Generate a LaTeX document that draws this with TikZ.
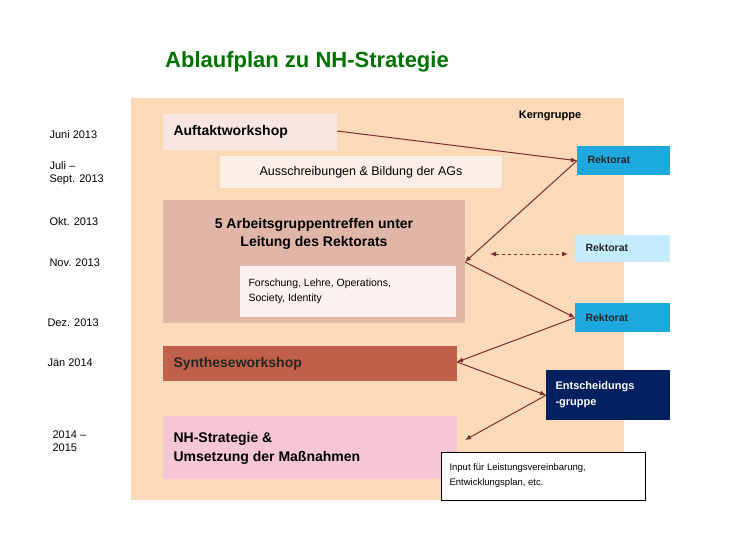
\documentclass[tikz,border=0pt]{standalone}
\usepackage{fontspec}
\setmainfont{Liberation Sans}
\usetikzlibrary{arrows.meta}
\definecolor{peach}{HTML}{FADAB8}
\definecolor{arr}{HTML}{7A2E2E}
\definecolor{cyanb}{HTML}{1DA9DE}
\definecolor{lightb}{HTML}{C4ECFA}
\definecolor{navy}{HTML}{002060}
\definecolor{cAuf}{HTML}{F8E6E2}
\definecolor{cAus}{HTML}{FCEFE8}
\definecolor{cAG}{HTML}{E0B6A8}
\definecolor{cFL}{HTML}{FBF1EE}
\definecolor{cSyn}{HTML}{C0604A}
\definecolor{cNH}{HTML}{F5C6D3}
\tikzset{
 box/.style={draw=none,anchor=north west,inner sep=0pt},
 lbl/.style={anchor=west,font=\fontsize{11}{13}\selectfont,align=left},
 con/.style={draw=arr,line width=1pt,-{Latex[length=6pt,width=5pt]}},
 rk/.style={font=\bfseries\fontsize{10.5}{12}\selectfont,text=black!85}
}
\begin{document}
\begin{tikzpicture}[x=1pt,y=-1pt]
\useasboundingbox (0,0) rectangle (735,538);
\fill[peach] (131,98) rectangle (624,500);
\node[text=green!45!black,font=\bfseries\fontsize{22}{26}\selectfont] (title) at (307,62) {Ablaufplan zu NH-Strategie};
\node[font=\bfseries\fontsize{11}{13}\selectfont] (kern) at (550,116) {Kerngruppe};
\node[lbl] (d1) at (46,135) {Juni 2013};
\node[lbl] (d2) at (46,173) {Juli –\\Sept. 2013};
\node[lbl] (d3) at (46,222) {Okt. 2013};
\node[lbl] (d4) at (46,263) {Nov. 2013};
\node[lbl] (d5) at (44,323) {Dez. 2013};
\node[lbl] (d6) at (44,363) {Jän 2014};
\node[lbl] (d7) at (49,441) {2014 –\\2015};
% boxes
\fill[cAuf] (163,114) rectangle (337,150);
\node[font=\bfseries\fontsize{14}{16}\selectfont,anchor=west] (auf) at (170,132) {Auftaktworkshop};
\coordinate (aufR) at (337,131);
\fill[cAus] (220,156) rectangle (502,188);
\node[font=\fontsize{12.5}{14}\selectfont] (aus) at (361,172) {Ausschreibungen \& Bildung der AGs};
\fill[cAG] (163,200) rectangle (465,323);
\node[font=\bfseries\fontsize{14}{18}\selectfont,align=center] (ag) at (314,234) {5 Arbeitsgruppentreffen unter\\Leitung des Rektorats};
\coordinate (agR) at (465,262);
\fill[cFL] (240,266) rectangle (456,317);
\node[font=\fontsize{10.5}{15}\selectfont,align=left,anchor=west] (fl) at (245,291) {Forschung, Lehre, Operations,\\Society, Identity};
\fill[cSyn] (163,346) rectangle (457,381);
\node[font=\bfseries\fontsize{14}{16}\selectfont,anchor=west,text=black!85] (syn) at (170,364) {Syntheseworkshop};
\coordinate (synR) at (457,362);
\fill[cNH] (163,416) rectangle (457,479);
\node[font=\bfseries\fontsize{14}{19}\selectfont,align=left,anchor=west] (nh) at (170,448) {NH-Strategie \&\\Umsetzung der Maßnahmen};
\coordinate (nhR) at (465,440);
% right
\node[box,fill=cyanb,minimum width=93pt,minimum height=29pt] (r1) at (577,146) {};
\node[rk,anchor=west] at (584,160) {Rektorat};
\node[box,fill=lightb,minimum width=95pt,minimum height=27pt] (r2) at (575,235) {};
\node[rk,anchor=west] at (582,248) {Rektorat};
\node[box,fill=cyanb,minimum width=95pt,minimum height=29pt] (r3) at (575,303) {};
\node[rk,anchor=west] at (582,318) {Rektorat};
\node[box,fill=navy,minimum width=124pt,minimum height=50pt] (eg) at (546,370) {};
\node[font=\bfseries\fontsize{11}{16}\selectfont,text=white,align=left,anchor=west] at (552,395) {Entscheidungs\\-gruppe};
\node[box,draw=black,fill=white,minimum width=204pt,minimum height=48pt] (inp) at (441,452) {};
\node[font=\fontsize{9.5}{15}\selectfont,align=left,anchor=west] at (446,476) {Input für Leistungsvereinbarung,\\Entwicklungsplan, etc.};
% connectors
\draw[con] (aufR) -- (r1.west);
\draw[con] (r1.west) -- (agR);
\draw[con] (agR) -- (r3.west);
\draw[con] (r3.west) -- (synR);
\draw[con] (synR) -- (eg.west);
\draw[con] (eg.west) -- (nhR);
\coordinate (da) at (490,254);
\coordinate (db) at (568,254);
\draw[draw=arr,line width=1pt,dashed,{Latex[length=6pt,width=5pt]}-{Latex[length=6pt,width=5pt]}] (da) -- (db);
\end{tikzpicture}
\end{document}
